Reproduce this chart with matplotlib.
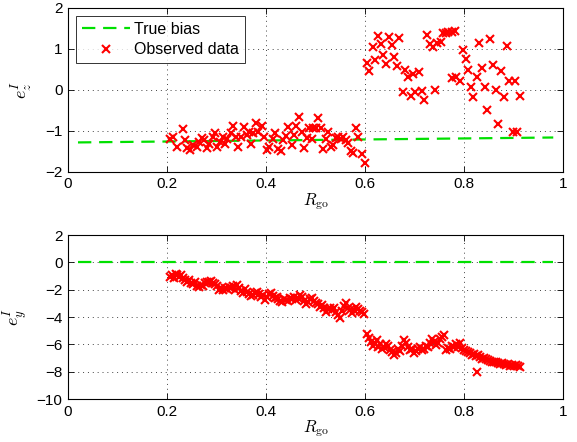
import numpy as np
import matplotlib
matplotlib.use('Agg')
import matplotlib.pyplot as plt

plt.rcParams['font.family'] = ['Liberation Sans', 'DejaVu Sans']
plt.rcParams['mathtext.fontset'] = 'cm'

# ---- top panel (e_z) ----
bias_z_x = [0.02, 0.98]
bias_z_y = [-1.28, -1.16]

obs_z_x = [0.206, 0.212, 0.220, 0.232, 0.236, 0.240, 0.246, 0.253, 0.261, 0.265,
           0.271, 0.275, 0.281, 0.285, 0.293, 0.297, 0.301, 0.307, 0.313, 0.317,
           0.321, 0.329, 0.333, 0.339, 0.343, 0.349, 0.356, 0.362, 0.366, 0.370,
           0.374, 0.380, 0.384, 0.392, 0.396, 0.402, 0.406, 0.414, 0.418, 0.424,
           0.430, 0.434, 0.440, 0.444, 0.452, 0.457, 0.461, 0.467, 0.472, 0.477,
           0.483, 0.487, 0.493, 0.495, 0.501, 0.505, 0.511, 0.515, 0.521, 0.525,
           0.531, 0.535, 0.541, 0.545, 0.551, 0.556, 0.562, 0.566, 0.572, 0.576,
           0.582, 0.586, 0.594, 0.600,
           0.604, 0.608, 0.616, 0.620, 0.626, 0.632, 0.637, 0.642, 0.648, 0.654,
           0.659, 0.665, 0.669, 0.677, 0.681, 0.687, 0.692, 0.697, 0.701, 0.709,
           0.715, 0.719, 0.725, 0.731, 0.737, 0.741, 0.746, 0.753, 0.758, 0.763,
           0.768, 0.775, 0.782, 0.775, 0.784, 0.792, 0.798, 0.804, 0.808, 0.814,
           0.818, 0.826, 0.830, 0.836, 0.842, 0.846, 0.853, 0.859, 0.865, 0.869,
           0.874, 0.881, 0.887, 0.891, 0.899, 0.903, 0.907, 0.913]
obs_z_y = [-1.20, -1.15, -1.39, -0.95, -1.22, -1.41, -1.46, -1.34, -1.39, -1.27,
           -1.17, -1.22, -1.41, -1.32, -1.15, -1.05, -1.39, -1.27, -1.15, -1.32,
           -1.20, -1.05, -0.88, -1.15, -1.39, -1.15, -0.90, -1.10, -1.02, -1.32,
           -1.05, -0.80, -1.02, -0.88, -1.15, -1.46, -1.39, -1.20, -1.05, -1.44,
           -1.49, -1.22, -1.12, -0.90, -1.34, -1.10, -0.88, -0.66, -1.02, -1.41,
           -1.17, -0.93, -1.20, -0.93, -0.93, -0.68, -0.93, -1.44, -1.20, -1.02,
           -1.39, -1.34, -1.17, -1.15, -1.20, -1.15, -1.22, -1.29, -1.49, -1.54,
           -0.93, -1.15, -1.56, -1.78,
           0.66, 0.46, 1.05, 0.73, 1.32, 1.12, 0.85, 0.63, 1.30, 1.10,
           0.80, 0.59, 1.27, -0.05, 0.49, 0.32, -0.15, 0.39, -0.05, 0.44,
           -0.02, -0.24, 1.34, 1.12, 1.05, 0.00, 1.14, 1.17, 1.39, 1.39,
           1.42, 1.42, 1.44, 0.29, 0.31, 0.22, 0.98, 0.75, 0.49, 0.07,
           -0.17, 0.31, 1.14, 0.53, 0.07, -0.49, 1.24, 0.61, 0.00, -0.83,
           0.46, -0.17, 1.07, 0.22, -1.02, 0.22, -1.02, -0.15]

# ---- bottom panel (e_y) ----
bias_y_x = [0.02, 0.98]
bias_y_y = [0.05, 0.05]

obs_y_x = [0.205, 0.209, 0.213, 0.217, 0.221, 0.225, 0.229, 0.233, 0.237, 0.241,
           0.245, 0.249, 0.253, 0.257, 0.261, 0.265, 0.269, 0.273, 0.277, 0.281,
           0.285, 0.289, 0.293, 0.297, 0.301, 0.305, 0.309, 0.313, 0.317, 0.321,
           0.325, 0.329, 0.333, 0.337, 0.341, 0.345, 0.349, 0.353, 0.357, 0.361,
           0.365, 0.369, 0.373, 0.377, 0.381, 0.385, 0.389, 0.393, 0.397, 0.401,
           0.405, 0.409, 0.413, 0.417, 0.421, 0.425, 0.429, 0.433, 0.437, 0.441,
           0.445, 0.449, 0.453, 0.457, 0.461, 0.465, 0.469, 0.473, 0.477, 0.481,
           0.485, 0.489, 0.493, 0.497, 0.501, 0.505, 0.509, 0.513, 0.517, 0.521,
           0.525, 0.529, 0.533, 0.537, 0.541, 0.545, 0.549, 0.553, 0.557, 0.561,
           0.565, 0.569, 0.573, 0.577, 0.581, 0.585, 0.589, 0.593, 0.597,
           0.603, 0.607, 0.611, 0.615, 0.619, 0.623, 0.627, 0.631, 0.635, 0.639,
           0.643, 0.647, 0.651, 0.655, 0.659, 0.663, 0.667, 0.671, 0.675, 0.679,
           0.683, 0.687, 0.691, 0.695, 0.699, 0.703, 0.707, 0.711, 0.715, 0.719,
           0.723, 0.727, 0.731, 0.735, 0.739, 0.743, 0.747, 0.751, 0.755, 0.759,
           0.763, 0.767, 0.771, 0.775, 0.779, 0.783, 0.787, 0.791, 0.795, 0.799,
           0.803, 0.807, 0.811, 0.815, 0.819, 0.823, 0.826, 0.829, 0.833, 0.837,
           0.841, 0.845, 0.849, 0.853, 0.857, 0.861, 0.865, 0.869, 0.873, 0.877,
           0.881, 0.885, 0.889, 0.893, 0.897, 0.901, 0.905, 0.909, 0.913]
obs_y_y = [-1.05, -0.95, -1.10, -0.85, -0.95, -1.05, -0.90, -1.15, -1.30, -1.40,
           -1.25, -1.50, -1.60, -1.45, -1.70, -1.80, -1.65, -1.75, -1.50, -1.40,
           -1.45, -1.35, -1.50, -1.55, -1.75, -2.00, -1.90, -2.05, -1.85, -1.95,
           -1.80, -1.90, -1.75, -2.00, -1.65, -1.90, -2.10, -2.20, -1.95, -2.15,
           -2.30, -2.45, -2.35, -2.20, -2.15, -2.30, -2.55, -2.40, -2.75, -2.50,
           -2.30, -2.25, -2.45, -2.60, -2.50, -2.70, -2.80, -2.90, -2.65, -2.75,
           -2.85, -2.60, -2.70, -2.55, -2.75, -2.60, -2.40, -2.50, -2.80, -3.05,
           -2.90, -2.70, -2.60, -2.85, -2.95, -3.05, -3.25, -3.10, -3.35, -3.60,
           -3.40, -3.30, -3.50, -3.35, -3.60, -3.85, -4.05, -3.55, -3.15, -3.00,
           -3.30, -3.50, -3.70, -3.45, -3.25, -3.40, -3.55, -3.65, -3.80,
           -5.20, -5.50, -5.80, -6.10, -5.90, -5.65, -6.20, -6.00, -6.30, -6.15,
           -5.95, -6.10, -6.40, -6.55, -6.80, -6.60, -6.35, -6.45, -6.10, -5.70,
           -5.90, -6.20, -6.40, -6.30, -6.65, -6.50, -6.30, -6.20, -6.40, -6.30,
           -6.10, -6.15, -5.90, -5.60, -5.80, -6.05, -5.90, -5.60, -5.45, -5.30,
           -6.40, -6.25, -6.30, -6.10, -6.20, -6.00, -6.15, -5.90, -6.25, -6.40,
           -6.50, -6.55, -6.65, -6.75, -6.70, -6.85, -8.00, -6.80, -6.95, -7.05,
           -7.00, -7.10, -7.15, -7.20, -7.30, -7.25, -7.30, -7.35, -7.40, -7.35,
           -7.45, -7.50, -7.45, -7.55, -7.50, -7.55, -7.50, -7.60, -7.65]

GREEN = '#00e000'
RED = '#ff0000'


def style_axes(ax, ylim, yticks):
    ax.set_xlim(0, 1)
    ax.set_ylim(*ylim)
    ax.set_xticks([0, 0.2, 0.4, 0.6, 0.8, 1])
    ax.set_xticklabels(['0', '0.2', '0.4', '0.6', '0.8', '1'])
    ax.set_yticks(yticks)
    ax.set_yticklabels([str(t).replace('-', '\u2212') for t in yticks])
    ax.tick_params(direction='in', top=True, right=True, labelsize=11,
                   length=4, width=0.6, pad=4)
    ax.grid(True, color='#444444', linestyle=(0, (1, 4)), linewidth=0.7)
    for s in ax.spines.values():
        s.set_linewidth(0.8)
    ax.set_xlabel(r'$R_{\rm go}$', fontsize=12, labelpad=0)


fig = plt.figure(figsize=(5.77, 4.42), dpi=100)
ax1 = fig.add_axes([0.118, 0.611, 0.858, 0.371])
ax2 = fig.add_axes([0.118, 0.097, 0.858, 0.371])

ax1.plot(bias_z_x, bias_z_y, color=GREEN, linestyle=(0, (6, 3.5)), linewidth=1.6,
         label='True bias')
ax1.plot(obs_z_x, obs_z_y, linestyle='none', marker='x', color=RED,
         markersize=6, markeredgewidth=1.5, label='Observed data')
style_axes(ax1, (-2, 2), [-2, -1, 0, 1, 2])
ax1.set_ylabel(r'$e_z^I$', fontsize=13, labelpad=7)
leg = ax1.legend(loc='upper left', fontsize=11.5, frameon=True, fancybox=False,
                 edgecolor='black', borderaxespad=0.5, handlelength=3.0,
                 labelspacing=0.35, borderpad=0.35, handletextpad=0.3)
leg.get_frame().set_linewidth(0.7)

ax2.plot(bias_y_x, bias_y_y, color=GREEN, linestyle=(0, (6, 3.5)), linewidth=1.6)
ax2.plot(obs_y_x, obs_y_y, linestyle='none', marker='x', color=RED,
         markersize=6, markeredgewidth=1.5)
style_axes(ax2, (-10, 2), [-10, -8, -6, -4, -2, 0, 2])
ax2.set_ylabel(r'$e_y^I$', fontsize=13, labelpad=5)

fig.savefig('out.png', dpi=100)
